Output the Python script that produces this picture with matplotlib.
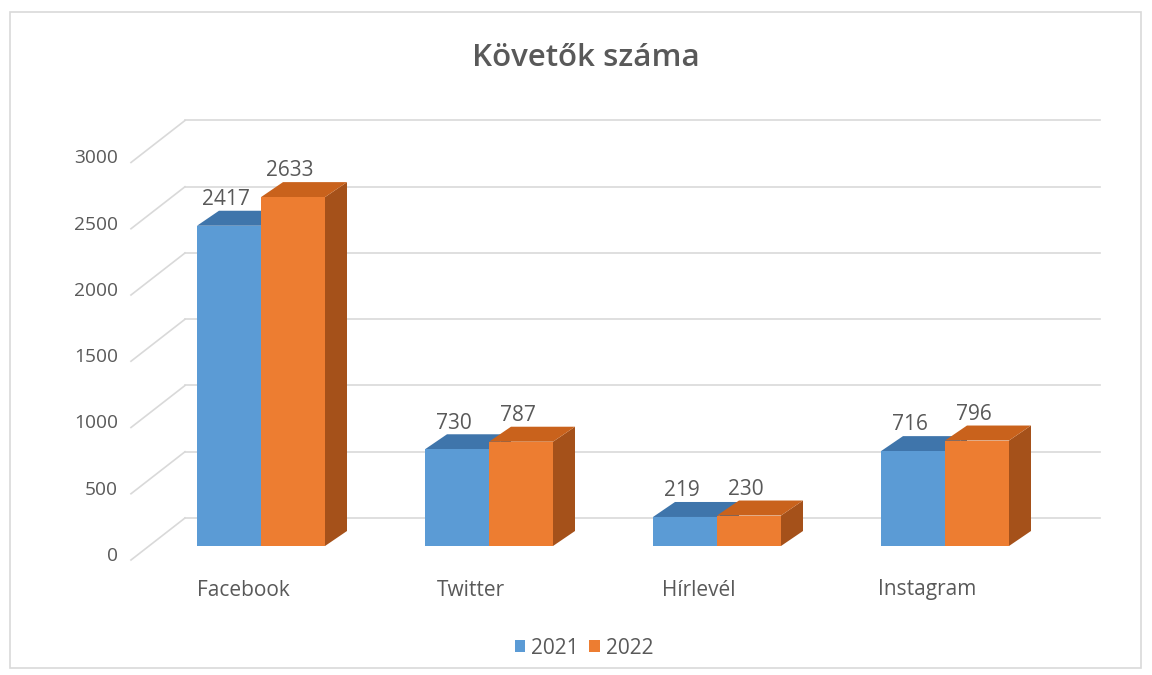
import matplotlib
matplotlib.use("Agg")
import matplotlib.pyplot as plt
from matplotlib.patches import Polygon, Rectangle

categories = ["Facebook", "Twitter", "Hírlevél", "Instagram"]
series_names = ["2021", "2022"]
values_2021 = [2417, 730, 219, 716]
values_2022 = [2633, 787, 230, 796]
y_ticks = [0, 500, 1000, 1500, 2000, 2500, 3000]
title = "Követők száma"

plt.rcParams['font.family'] = ['Open Sans', 'DejaVu Sans']
TXT = "#595959"
GRID = "#d9d9d9"
front_cols = ["#5b9bd5", "#ed7d31"]
top_cols = ["#3f75ab", "#c9621c"]
side_cols = ["#3a6894", "#a5511a"]

W, H, DPI = 1152, 675, 100
fig = plt.figure(figsize=(W / DPI, H / DPI), dpi=DPI)
ax = fig.add_axes([0, 0, 1, 1])
ax.set_axis_off()

# axis scaling: category spacing 228 px, 1 px = 7.547 value units
PX_X = 1 / 228.0
PX_Y = 7.547
x0_px, y0_px = 261, 546
ax.set_xlim(-x0_px * PX_X, (W - x0_px) * PX_X)
ax.set_ylim(-(H - y0_px) * PX_Y, y0_px * PX_Y)

# back wall geometry
wall_front_x = -130 * PX_X
wall_back_x = -76 * PX_X
wall_right_x = 839 * PX_X
wall_front_dy = -14 * PX_Y
wall_back_dy = 28 * PX_Y

FS_TICK = 13.8
FS = 15
for v in y_ticks:
    ax.plot([wall_front_x, wall_back_x], [v + wall_front_dy, v + wall_back_dy],
            color=GRID, lw=1.2, zorder=1)
    ax.plot([wall_back_x, wall_right_x], [v + wall_back_dy, v + wall_back_dy],
            color=GRID, lw=1.2, zorder=1)
    ax.text(-143 * PX_X, v + wall_front_dy + 4 * PX_Y, str(v), ha='right', va='center',
            fontsize=FS_TICK, color=TXT)

# bars (fake 3D)
BW = 64 * PX_X
DX = 22 * PX_X
DY = 15 * PX_Y
all_vals = [values_2021, values_2022]
for i, cat in enumerate(categories):
    for s in range(2):
        v = all_vals[s][i]
        left = i - BW if s == 0 else i
        z = 3 + s
        ax.add_patch(Polygon([(left + BW, 0), (left + BW + DX, DY), (left + BW + DX, v + DY), (left + BW, v)],
                             closed=True, facecolor=side_cols[s], edgecolor='none', zorder=z))
        ax.add_patch(Polygon([(left, v), (left + DX, v + DY), (left + BW + DX, v + DY), (left + BW, v)],
                             closed=True, facecolor=top_cols[s], edgecolor='none', zorder=z))
        ax.bar(left, v, width=BW, align='edge', color=front_cols[s], zorder=z + 0.5,
               label=series_names[s] if i == 0 else None)
        ax.text(left + BW / 2 - 3 * PX_X, v + DY + 85, str(v), ha='center', va='center',
                fontsize=FS, color=TXT, zorder=10)
    ax.text(i - 18 * PX_X, -44 * PX_Y, cat, ha='center', va='center', fontsize=FS, color=TXT)

ax.text((586 - x0_px) * PX_X, (y0_px - 58) * PX_Y, title, ha='center', va='center',
        fontsize=22.5, fontweight='semibold', color=TXT)

handles = [Rectangle((0, 0), 1, 1, facecolor=c) for c in front_cols]
leg = ax.legend(handles, series_names, loc='center', bbox_to_anchor=(584 / W, 1 - 648 / H),
                ncol=2, frameon=False, handlelength=0.5, handleheight=0.5,
                columnspacing=0.5, handletextpad=0.3, fontsize=FS)
for t in leg.get_texts():
    t.set_color(TXT)

fig.patches.append(Rectangle((10 / W, 1 - 668 / H), (1141 - 10) / W, (668 - 12) / H,
                             transform=fig.transFigure, fill=False, edgecolor=GRID, lw=1.2))

fig.savefig("out.png", dpi=DPI, facecolor='white')
